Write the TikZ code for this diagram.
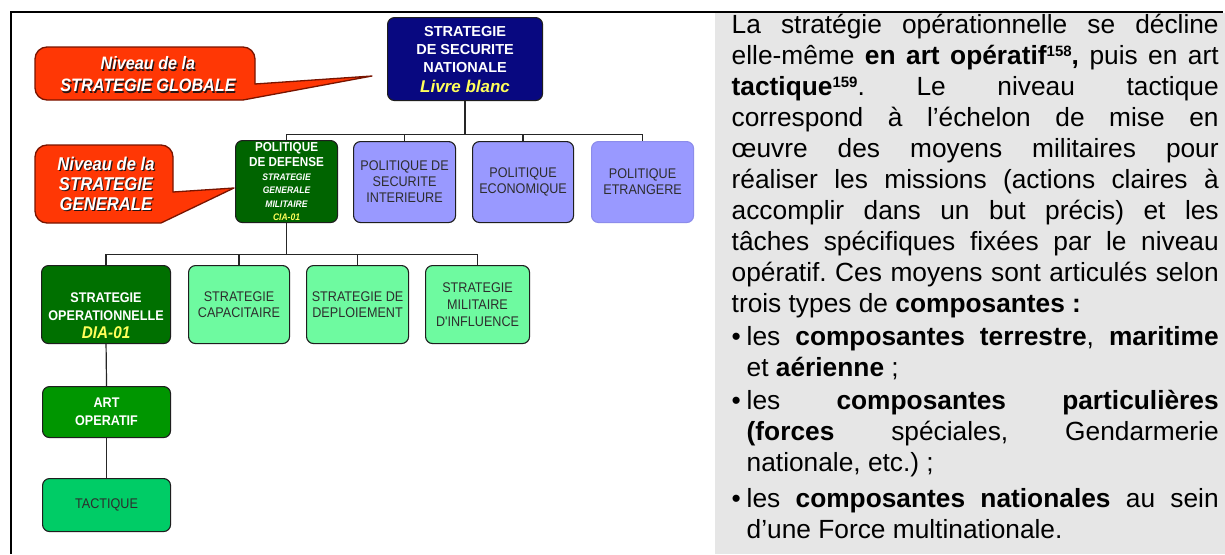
\documentclass[tikz,border=0pt]{standalone}
\usepackage{fontspec}
\setmainfont{Liberation Sans}
\newfontfamily\dgf[FakeStretch=0.9]{Liberation Sans}
\definecolor{navybox}{RGB}{8,8,128}
\definecolor{ylw}{RGB}{255,255,90}
\definecolor{dkgreen}{RGB}{0,100,0}
\definecolor{opgreen}{RGB}{0,112,0}
\definecolor{artgreen}{RGB}{0,150,0}
\definecolor{tacgreen}{RGB}{0,204,102}
\definecolor{ltgreen}{RGB}{110,250,160}
\definecolor{peri}{RGB}{153,153,255}
\definecolor{perilight}{RGB}{140,140,235}
\definecolor{boxln}{RGB}{30,30,30}
\definecolor{txtgray}{RGB}{45,45,45}
\definecolor{callred}{RGB}{255,55,5}
\definecolor{calldark}{RGB}{120,20,0}
\definecolor{panelgray}{RGB}{230,230,230}
\definecolor{shadowc}{RGB}{40,20,20}
\newcommand\calltxt[1]{\rlap{\kern1.2pt\raisebox{-1.2pt}{\textcolor{shadowc}{#1}}}\textcolor{white}{#1}}
\newcommand\supnum[1]{\raisebox{8pt}{\fontsize{15}{15}\selectfont\bfseries #1}}
\begin{document}
\begin{tikzpicture}[x=1pt,y=-1pt,
  box/.style={draw=boxln, line width=1.1pt, rounded corners=7pt, inner sep=0pt, anchor=north west, align=center},
  conn/.style={draw=black!85, line width=1.2pt},
  callout/.style={fill=callred, draw=calldark, line width=1.3pt, line join=round},
  calltext/.style={inner sep=0pt, align=center, font=\dgf\bfseries\itshape\fontsize{18}{22}\selectfont},
]
\useasboundingbox (0,0) rectangle (1225,554);
\fill[white] (0,0) rectangle (1225,554);
\fill[panelgray] (715,13) rectangle (1225,554);
\draw[line width=2pt] (10,12) -- (1223,12);
\draw[line width=2pt] (11,12) -- (11,554);

% callout 1
\draw[callout] (47,47) -- (243,47) arc[start angle=-90, end angle=0, radius=12]
  -- (255,84) -- (372,76) -- (243,100) -- (47,100)
  arc[start angle=90, end angle=180, radius=12] -- (35,59)
  arc[start angle=180, end angle=270, radius=12] -- cycle;
\node[calltext] (c1) at (148,75) {\calltxt{Niveau de la}\\\calltxt{STRATEGIE GLOBALE}};

% callout 2
\draw[callout] (47,145) -- (161,145) arc[start angle=-90, end angle=0, radius=12]
  -- (173,192) -- (234,188) -- (161,223) -- (47,223)
  arc[start angle=90, end angle=180, radius=12] -- (35,157)
  arc[start angle=180, end angle=270, radius=12] -- cycle;
\node[calltext, font=\dgf\bfseries\itshape\fontsize{18.5}{20}\selectfont] (c2) at (106,184) {\calltxt{Niveau de la}\\\calltxt{STRATEGIE}\\\calltxt{GENERALE}};

% top box
\node[box, fill=navybox, minimum width=155pt, minimum height=83pt, text=white,
  font=\bfseries\fontsize{14.5}{18}\selectfont] (ssn) at (387,17)
  {STRATEGIE\\DE SECURITE\\NATIONALE\\[2pt]{\fontsize{17}{17}\selectfont\itshape\color{ylw}Livre blanc}};

% middle row
\node[box, fill=dkgreen, minimum width=102pt, minimum height=82pt, text=white,
  font=\dgf\bfseries\fontsize{13}{13.5}\selectfont] (pdef) at (235,140)
  {POLITIQUE\\[1.5pt]DE DEFENSE\\{\fontsize{9.5}{9.5}\selectfont\itshape STRATEGIE}\\{\fontsize{9.5}{9.5}\selectfont\itshape GENERALE}\\{\fontsize{9.5}{9.5}\selectfont\itshape MILITAIRE}\\{\fontsize{9.5}{9.5}\selectfont\itshape\color{ylw}CIA-01}};
\node[box, fill=peri, minimum width=102pt, minimum height=81pt, text=txtgray,
  font=\dgf\fontsize{14}{16}\selectfont] (psi) at (353,141) {POLITIQUE DE\\SECURITE\\INTERIEURE};
\node[box, fill=peri, minimum width=101pt, minimum height=81pt, text=txtgray,
  font=\dgf\fontsize{14}{16}\selectfont] (peco) at (472,141) {POLITIQUE\\ECONOMIQUE};
\node[box, fill=peri, draw=perilight, minimum width=102pt, minimum height=81pt, text=txtgray,
  font=\dgf\fontsize{14}{16}\selectfont] (petr) at (591,141) {POLITIQUE\\ETRANGERE};

% bottom row
\node[box, fill=opgreen, minimum width=129pt, minimum height=78pt, text=white,
  font=\dgf\bfseries\fontsize{14}{18}\selectfont] (sop) at (41,265)
  {{}\\[14pt]STRATEGIE\\OPERATIONNELLE\\{\fontsize{17}{17}\selectfont\itshape\color{ylw}DIA-01}};
\node[box, fill=ltgreen, minimum width=101pt, minimum height=78pt, text=txtgray,
  font=\dgf\fontsize{14}{16}\selectfont] (scap) at (188,265) {STRATEGIE\\CAPACITAIRE};
\node[box, fill=ltgreen, minimum width=102pt, minimum height=78pt, text=txtgray,
  font=\dgf\fontsize{14}{16}\selectfont] (sdep) at (306,265) {STRATEGIE DE\\DEPLOIEMENT};
\node[box, fill=ltgreen, minimum width=104pt, minimum height=78pt, text=txtgray,
  font=\dgf\fontsize{14}{17}\selectfont] (sinf) at (425,265) {STRATEGIE\\MILITAIRE\\D'INFLUENCE};

\node[box, fill=artgreen, minimum width=128pt, minimum height=51pt, text=white,
  font=\dgf\bfseries\fontsize{14}{18}\selectfont] (art) at (42,386) {ART\\OPERATIF};
\node[box, fill=tacgreen, minimum width=128pt, minimum height=53pt, text=txtgray,
  font=\dgf\fontsize{14}{16}\selectfont] (tac) at (42,478) {TACTIQUE};

% connectors
\path (ssn.south) ++(0,33) coordinate (b1);
\path (pdef.south) ++(0,31) coordinate (b2);
\draw[conn] (ssn.south) -- (b1);
\draw[conn] (b1) -| (pdef.north);
\draw[conn] (b1) -| (psi.north);
\draw[conn] (b1) -| (peco.north);
\draw[conn] (b1) -| (petr.north);
\draw[conn] (pdef.south) -- (b2);
\draw[conn] (b2) -| (sop.north);
\draw[conn] (b2) -| (scap.north);
\draw[conn] (b2) -| (sdep.north);
\draw[conn] (b2) -| (sinf.north);
\draw[conn] (sop.south) -- (art.north);
\draw[conn] (art.south) -- (tac.north);

% right text
\node[anchor=north west, inner sep=0pt, text width=487pt, align=justify,
  font=\fontsize{26.3}{31}\selectfont] (txt) at (731.5,12) {%
\parindent=0pt\tolerance=10000\hbadness=10000\hyphenpenalty=10000\exhyphenpenalty=10000\frenchspacing
\noindent\rule{0pt}{21pt}La stratégie opérationnelle se décline\linebreak
elle-même \textbf{en art opératif\supnum{158},} puis en art\linebreak
\textbf{tactique\supnum{159}}. Le niveau tactique\linebreak
correspond à l’échelon de mise en\linebreak
œuvre des moyens militaires pour\linebreak
réaliser les missions (actions claires à\linebreak
accomplir dans un but précis) et les\linebreak
tâches spécifiques fixées par le niveau\linebreak
opératif. Ces moyens sont articulés selon\linebreak
trois types de \textbf{composantes :}\par
\vspace{2pt}\noindent\hangindent=15pt\hangafter=1\makebox[15pt][l]{•}les \textbf{composantes terrestre}, \textbf{maritime}\linebreak
et \textbf{aérienne} ;\par
\vspace{2pt}\noindent\hangindent=15pt\hangafter=1\makebox[15pt][l]{•}les \textbf{composantes particulières}\linebreak
\textbf{(forces} spéciales, Gendarmerie\linebreak
nationale, etc.) ;\par
\vspace{5pt}\noindent\hangindent=15pt\hangafter=1\makebox[15pt][l]{•}les \textbf{composantes nationales} au sein\linebreak
d’une Force multinationale.\par};
\end{tikzpicture}
\end{document}
